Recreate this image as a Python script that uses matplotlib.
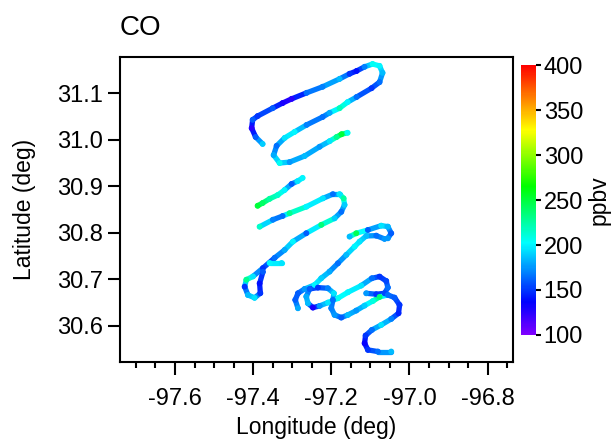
import numpy as np
import matplotlib.pyplot as plt
from matplotlib.collections import LineCollection
from matplotlib.colors import LinearSegmentedColormap
from matplotlib.ticker import MultipleLocator

plt.rcParams['font.family'] = ['Liberation Sans', 'DejaVu Sans']
plt.rcParams['axes.unicode_minus'] = False

nan = np.nan

# flight track (deg), legs separated by nan, CO in ppbv
lon = [-97.3757, -97.3936, -97.4038, -97.4013, -97.3885, -97.3501, -97.3246, -97.3015, -97.2632, -97.2223,
       -97.1788, -97.1532, -97.1353, -97.1148, -97.0944, -97.0765, -97.0688, -97.0765, -97.0969, -97.1353,
       -97.1583, -97.1788, -97.2043, -97.2223, -97.2632, -97.2939, -97.3194, -97.3399, -97.3476, -97.3322,
       -97.3066, -97.2683, -97.2299, -97.2043, -97.1864, -97.1737, -97.1583, nan,
       -97.3885, -97.3757, -97.3578, -97.3373, -97.3194, -97.3015, -97.2862, -97.2734, nan,
       -97.3834, -97.3494, -97.3246, -97.3067, -97.2639, -97.2215, -97.1959, -97.1788, -97.1685, -97.1660,
       -97.1744, -97.1916, -97.2256, -97.2639, -97.2982, -97.3194, -97.3450, -97.3749, -97.4005, -97.4174,
       -97.4217, -97.4133, -97.3962, -97.3816, -97.3834, -97.3749, nan,
       -97.3578, -97.3271, nan,
       -97.1532, -97.1361, -97.1063, -97.0722, -97.0552, -97.0466, -97.0552, nan,
       -97.0637, -97.0850, -97.1106, -97.1276, -97.1404, -97.1617, -97.1830, -97.2044, -97.2257, -97.2427,
       -97.2683, -97.2853, -97.2922, -97.2853, nan,
       -97.1106, -97.0850, -97.0637, -97.0552, -97.0594, -97.0765, -97.0961, -97.1234, -97.1575, -97.1830,
       -97.2086, -97.2299, -97.2470, -97.2598, -97.2640, -97.2555, -97.2342, -97.2086, -97.1933, -97.1958,
       -97.2001, -97.1916, -97.1745, -97.1575, -97.1361, -97.1148, -97.0935, -97.0765, -97.0552, -97.0381,
       -97.0253, -97.0279, -97.0466, -97.0722, -97.0961, -97.1123, -97.1148, -97.1063, -97.0807, -97.0466]
lat = [30.991, 31.006, 31.025, 31.043, 31.051, 31.068, 31.079, 31.088, 31.101, 31.114,
       31.131, 31.142, 31.148, 31.157, 31.163, 31.159, 31.144, 31.124, 31.111, 31.092,
       31.081, 31.068, 31.058, 31.049, 31.032, 31.017, 31.004, 30.987, 30.967, 30.950,
       30.952, 30.965, 30.985, 30.997, 31.006, 31.012, 31.015, nan,
       30.858, 30.864, 30.873, 30.881, 30.892, 30.905, 30.911, 30.918, nan,
       30.813, 30.828, 30.836, 30.842, 30.856, 30.874, 30.883, 30.883, 30.874, 30.860,
       30.845, 30.831, 30.817, 30.799, 30.781, 30.763, 30.746, 30.724, 30.706, 30.699,
       30.684, 30.666, 30.660, 30.670, 30.691, 30.716, nan,
       30.735, 30.735, nan,
       30.7917, 30.7989, 30.8060, 30.8153, 30.8132, 30.7989, 30.7881, nan,
       30.7867, 30.7938, 30.7931, 30.7809, 30.7702, 30.7523, 30.7343, 30.7164, 30.7021, 30.6878,
       30.6791, 30.6698, 30.6555, 30.6376, nan,
       30.6698, 30.6677, 30.6698, 30.6820, 30.6963, 30.7057, 30.7021, 30.6863, 30.6720, 30.6591,
       30.6498, 30.6426, 30.6390, 30.6483, 30.6627, 30.6791, 30.6820, 30.6806, 30.6698, 30.6555,
       30.6376, 30.6232, 30.6175, 30.6232, 30.6326, 30.6433, 30.6533, 30.6619, 30.6662, 30.6605,
       30.6447, 30.6268, 30.6146, 30.6017, 30.5910, 30.5788, 30.5623, 30.5480, 30.5444, 30.5444]
co = [190, 160, 125, 160, 150, 160, 130, 125, 165, 170,
      185, 150, 140, 170, 205, 200, 185, 165, 150, 165,
      200, 220, 180, 165, 170, 200, 195, 165, 180, 205,
      175, 185, 175, 195, 230, 250, 205, nan,
      250, 240, 225, 215, 200, 160, 195, 200, nan,
      215, 170, 165, 230, 200, 195, 165, 195, 225, 190,
      165, 190, 235, 160, 200, 180, 165, 150, 195, 230,
      150, 185, 195, 150, 140, 160, nan,
      200, 195, nan,
      185, 245, 160, 195, 185, 160, 175, nan,
      175, 165, 185, 195, 200, 185, 165, 180, 190, 200,
      175, 160, 160, 180, nan,
      175, 150, 155, 165, 155, 150, 165, 195, 200, 205,
      195, 175, 130, 185, 180, 160, 150, 170, 195, 165,
      170, 175, 160, 185, 175, 190, 210, 235, 165, 160,
      150, 145, 170, 195, 165, 150, 135, 150, 165, 185]

cb_ticks = [100, 150, 200, 250, 300, 350, 400]

cmap = LinearSegmentedColormap.from_list('rainbow_igor', [
    (0.0, (0.5, 0.0, 1.0)), (0.12, (0.0, 0.0, 1.0)), (0.34, (0.0, 1.0, 1.0)),
    (0.55, (0.0, 1.0, 0.0)), (0.76, (1.0, 1.0, 0.0)), (1.0, (1.0, 0.0, 0.0))])
norm = plt.Normalize(100, 400)

fig = plt.figure(figsize=(6.11, 4.45), dpi=100)
ax = fig.add_axes([0.1964, 0.1872, 0.6432, 0.684])
cax = fig.add_axes([0.8527, 0.2472, 0.0245, 0.6067])

# track as coloured segments plus dots for texture
pts = np.column_stack([lon, lat])
segs = np.stack([pts[:-1], pts[1:]], axis=1)
ok = np.isfinite(segs).all(axis=(1, 2))
c = np.array(co, dtype=float)
cseg = (c[:-1] + c[1:]) / 2
lc = LineCollection(segs[ok], cmap=cmap, norm=norm, linewidths=3.8,
                    capstyle='round', joinstyle='round')
lc.set_array(cseg[ok])
ax.add_collection(lc)
ax.scatter(lon, lat, c=co, cmap=cmap, norm=norm, s=18, linewidths=0, zorder=3)

ax.set_xlim(-97.7407, -96.735)
ax.set_ylim(30.5226, 31.1774)
ax.set_xticks([-97.6, -97.4, -97.2, -97.0, -96.8])
ax.xaxis.set_minor_locator(MultipleLocator(0.05))
ax.set_yticks([30.6, 30.7, 30.8, 30.9, 31.0, 31.1])
ax.xaxis.set_major_formatter(plt.FormatStrFormatter('%.1f'))
ax.yaxis.set_major_formatter(plt.FormatStrFormatter('%.1f'))

for s in ax.spines.values():
    s.set_linewidth(1.5)
ax.tick_params(axis='both', which='major', direction='out', length=9, width=1.5, labelsize=17)
ax.tick_params(axis='x', which='minor', direction='out', length=4, width=1.5)
ax.tick_params(axis='x', pad=10)
ax.tick_params(axis='y', pad=3.5)

ax.set_xlabel('Longitude (deg)', fontsize=16.5, labelpad=4)
ax.set_ylabel('Latitude (deg)', fontsize=16.5, labelpad=15)
ax.set_title('CO', loc='left', fontsize=20, pad=16)

sm = plt.cm.ScalarMappable(cmap=cmap, norm=norm)
cb = fig.colorbar(sm, cax=cax)
cb.set_ticks(cb_ticks)
cb.outline.set_visible(False)
cax.tick_params(length=3.5, width=1.5, pad=2, labelsize=17)
cb.set_label('ppbv', fontsize=16.5, labelpad=3)

fig.savefig('out.png', dpi=100)
